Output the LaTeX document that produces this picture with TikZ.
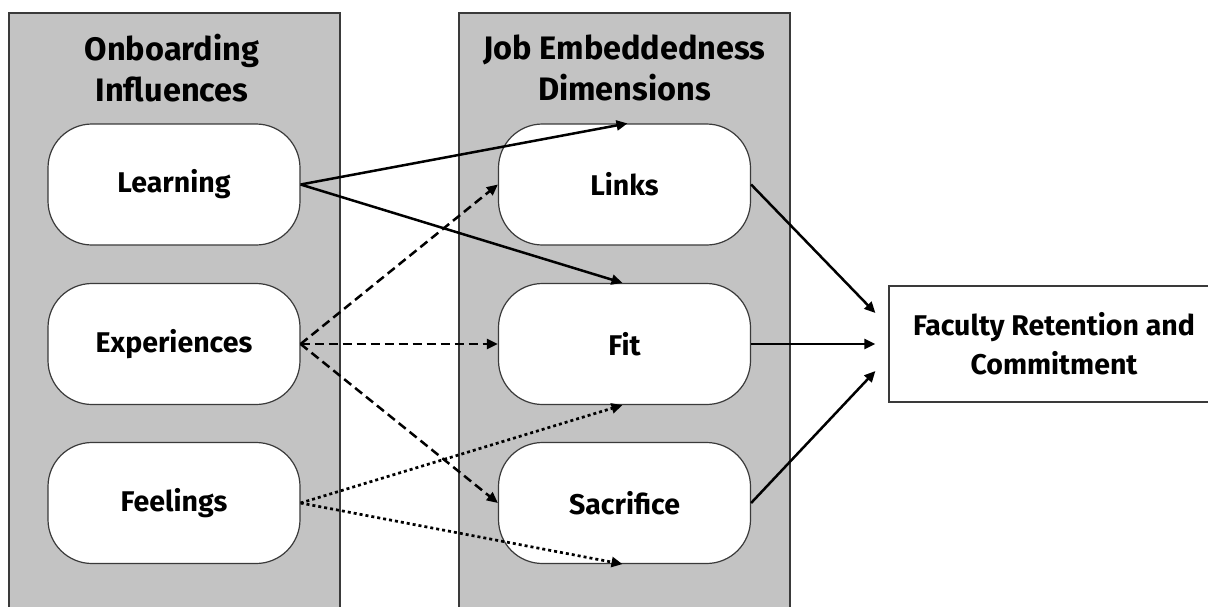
\documentclass[tikz,border=0pt]{standalone}
\usepackage{fontspec}
\setmainfont{Fira Sans}
\usetikzlibrary{arrows.meta}
\definecolor{panelgray}{HTML}{C3C3C3}
\definecolor{edgegray}{HTML}{3A3A3A}
\tikzset{
  panel/.style={fill=panelgray, draw=edgegray, line width=1.3pt},
  pill/.style={fill=white, draw=edgegray, line width=1.2pt, rounded corners=44pt,
    minimum width=252pt, minimum height=121pt, inner sep=0pt,
    font=\fontsize{28.5}{30}\selectfont\bfseries},
  title/.style={align=center, font=\fontsize{32.5}{41}\selectfont\bfseries},
  outcome/.style={fill=white, draw=edgegray, line width=1.2pt,
    minimum width=330pt, minimum height=116pt, inner sep=0pt, align=center,
    font=\fontsize{28.5}{39}\selectfont\bfseries},
  link/.style={line width=2.5pt, -{Triangle[length=11pt,width=10pt]}},
  solidlink/.style={link},
  dashlink/.style={link, dash pattern=on 9pt off 5pt},
  dotlink/.style={link, line width=2.7pt, dash pattern=on 3pt off 3pt},
}
\begin{document}
\begin{tikzpicture}[x=1pt,y=-1pt]
\useasboundingbox (0,0) rectangle (1208,606);
\clip (0,0) rectangle (1208,606);
% two background panels
\draw[panel] (9,13) rectangle (340,620);
\draw[panel] (459,13) rectangle (790,620);
\node[title] (t1) at (172,68) {Onboarding\\Influences};
\node[title] (t2) at (624.5,68) {Job Embeddedness\\Dimensions};
% onboarding influences
\node[pill] (learn) at (174,184.5) {Learning};
\node[pill] (exper) at (174,344) {Experiences};
\node[pill] (feel)  at (174,503) {Feelings};
% embeddedness dimensions
\node[pill] (links) at (624.5,184.5) {Links};
\node[pill] (fit)   at (624.5,344) {Fit};
\node[pill] (sacr)  at (624.5,503) {Sacrifice};
% outcome
\node[outcome] (out) at (1054,344) {Faculty Retention and\\Commitment};
% anchor points on the dimension pills and in front of the outcome box
\coordinate (linksTop) at ([xshift=3pt]links.north);
\coordinate (fitTop) at ([xshift=-2pt]fit.north);
\coordinate (fitBot) at ([xshift=-2pt]fit.south);
\coordinate (sacrBot) at ([xshift=-2pt]sacr.south);
\coordinate (outA) at ([xshift=-13pt,yshift=31pt]out.west);
\coordinate (outB) at ([xshift=-13pt]out.west);
\coordinate (outC) at ([xshift=-13pt,yshift=-27pt]out.west);
% connectors
\draw[solidlink] (learn.east) -- (linksTop);
\draw[solidlink] (learn.east) -- (fitTop);
\draw[dashlink] (exper.east) -- (links.west);
\draw[dashlink] (exper.east) -- (fit.west);
\draw[dashlink] (exper.east) -- (sacr.west);
\draw[dotlink] (feel.east) -- (fitBot);
\draw[dotlink] (feel.east) -- (sacrBot);
\draw[solidlink] (links.east) -- (outA);
\draw[solidlink] (fit.east) -- (outB);
\draw[solidlink] (sacr.east) -- (outC);
\end{tikzpicture}
\end{document}
